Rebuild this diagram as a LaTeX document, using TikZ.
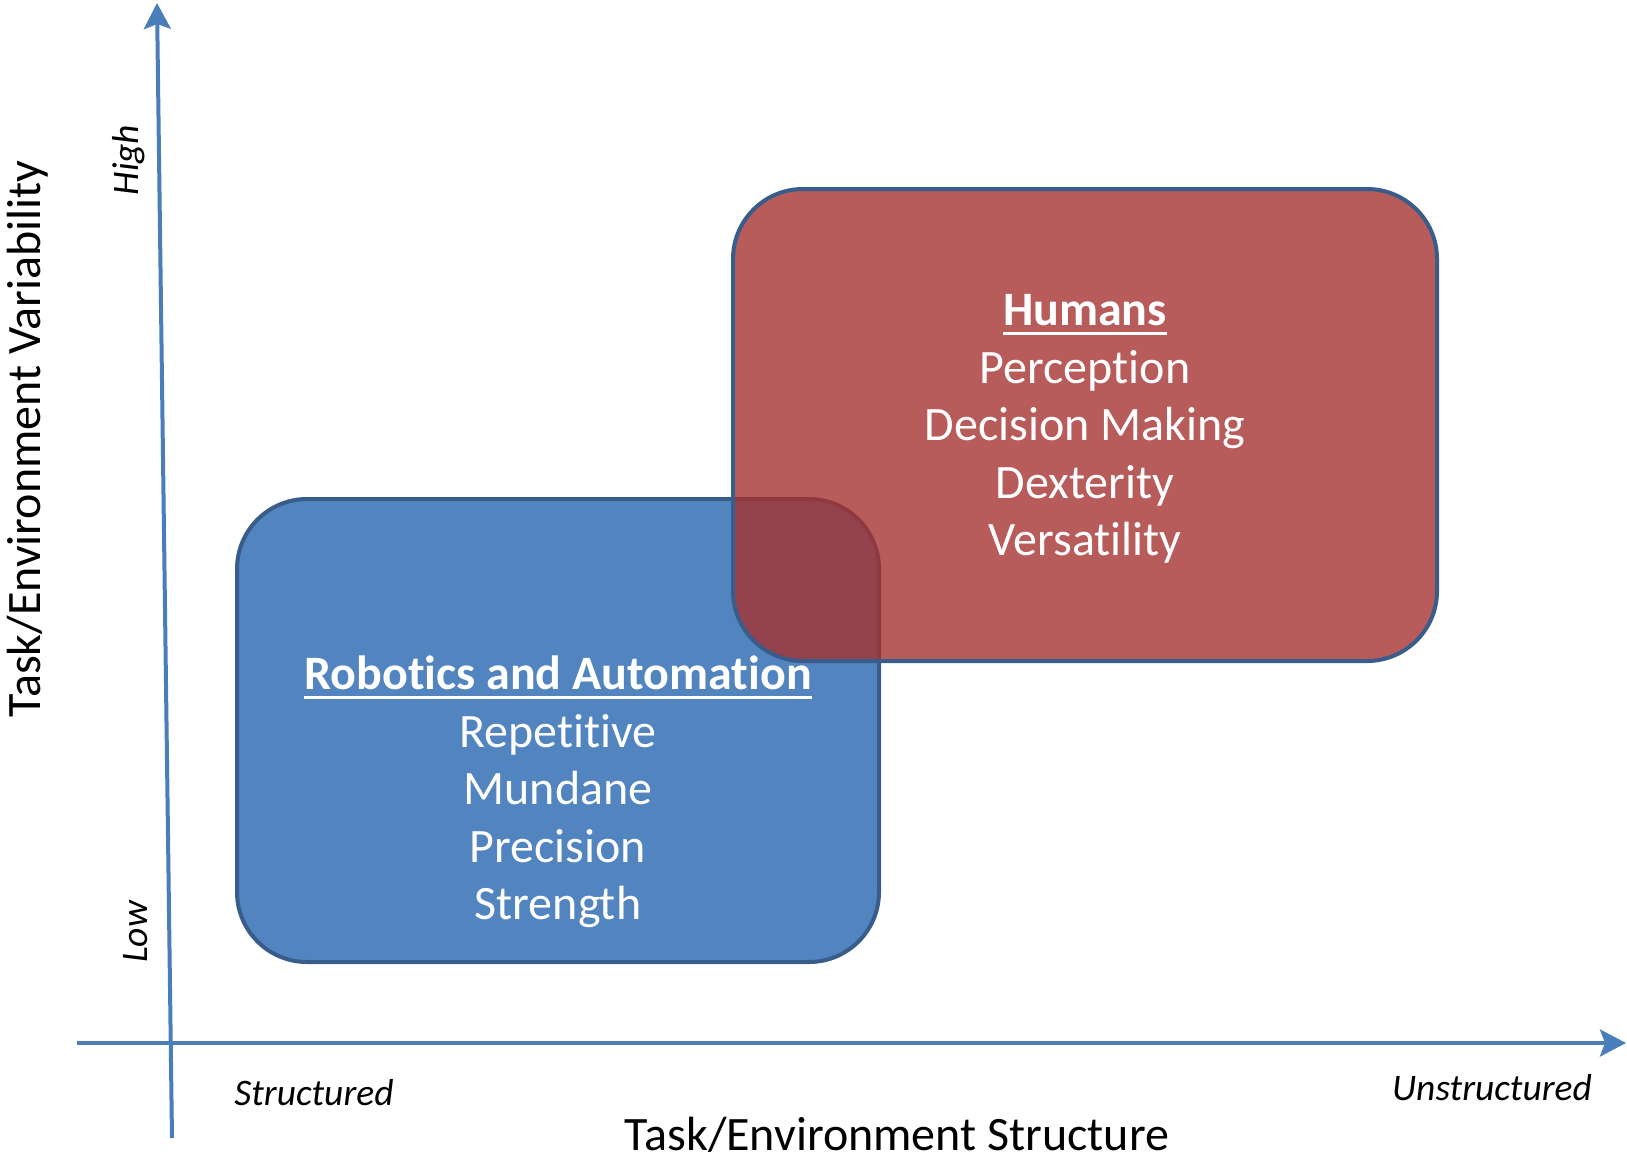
\documentclass[tikz,border=0pt]{standalone}
\usepackage{fontspec}
\setmainfont{Carlito}[Ligatures=NoCommon]
\usetikzlibrary{arrows.meta}
\definecolor{axisblue}{RGB}{74,126,187}
\definecolor{edgeblue}{RGB}{56,93,138}
\definecolor{robotfill}{RGB}{82,132,192}
\definecolor{humanfill}{RGB}{165,50,50}
% underline drawn a little below the baseline
\newcommand\hdline[1]{\setbox0\hbox{#1}\rlap{\vrule height -6pt depth 9pt width \wd0}\box0}
\begin{document}
\begin{tikzpicture}[x=1pt,y=-1pt,
    axis/.style={draw=axisblue,line width=4pt,-{Stealth[length=26pt,width=27pt,inset=5pt]}},
    region/.style={draw=edgeblue,line width=4pt,rounded corners=70pt,inner sep=0pt},
    boxtext/.style={text=white,align=center,font=\fontsize{48pt}{57.5pt}\selectfont},
    axistitle/.style={font=\fontsize{48pt}{56pt}\selectfont,anchor=base},
    axislabel/.style={font=\fontsize{37.5pt}{43pt}\selectfont\itshape,anchor=base}]
  \useasboundingbox (0,0) rectangle (1627,1160);
  % axes
  \coordinate (yfoot) at (172,1138);
  \coordinate (ytip) at (157,3);
  \coordinate (xfoot) at (77,1043);
  \coordinate (xtip) at (1626,1043);
  \draw[axis] (yfoot) -- (ytip);
  \draw[axis] (xfoot) -- (xtip);
  % regions
  \node[region,fill=robotfill,minimum width=642pt,minimum height=463pt] (robots) at (558,730.5) {};
  \node[region,fill=humanfill,fill opacity=0.8,minimum width=704pt,minimum height=472pt] (humans) at (1085,425) {};
  \node[boxtext] (robotlist) at (558,792) {\textbf{\hdline{Robotics and Automation}}\\Repetitive\\Mundane\\Precision\\Strength};
  \node[boxtext] (humanlist) at (1085,429) {\textbf{\hdline{Humans}}\\Perception\\Decision Making\\Dexterity\\Versatility};
  % labels
  \node[axistitle,rotate=90] (ytitle) at (40,439) {Task/Environment Variability};
  \node[axistitle] (xtitle) at (897,1150) {Task/Environment Structure};
  \node[axislabel,rotate=90] (high) at (138,160) {High};
  \node[axislabel,rotate=90] (low) at (147,932) {Low};
  \node[axislabel] (structured) at (314,1105) {Structured};
  \node[axislabel] (unstructured) at (1492,1100) {Unstructured};
\end{tikzpicture}
\end{document}
